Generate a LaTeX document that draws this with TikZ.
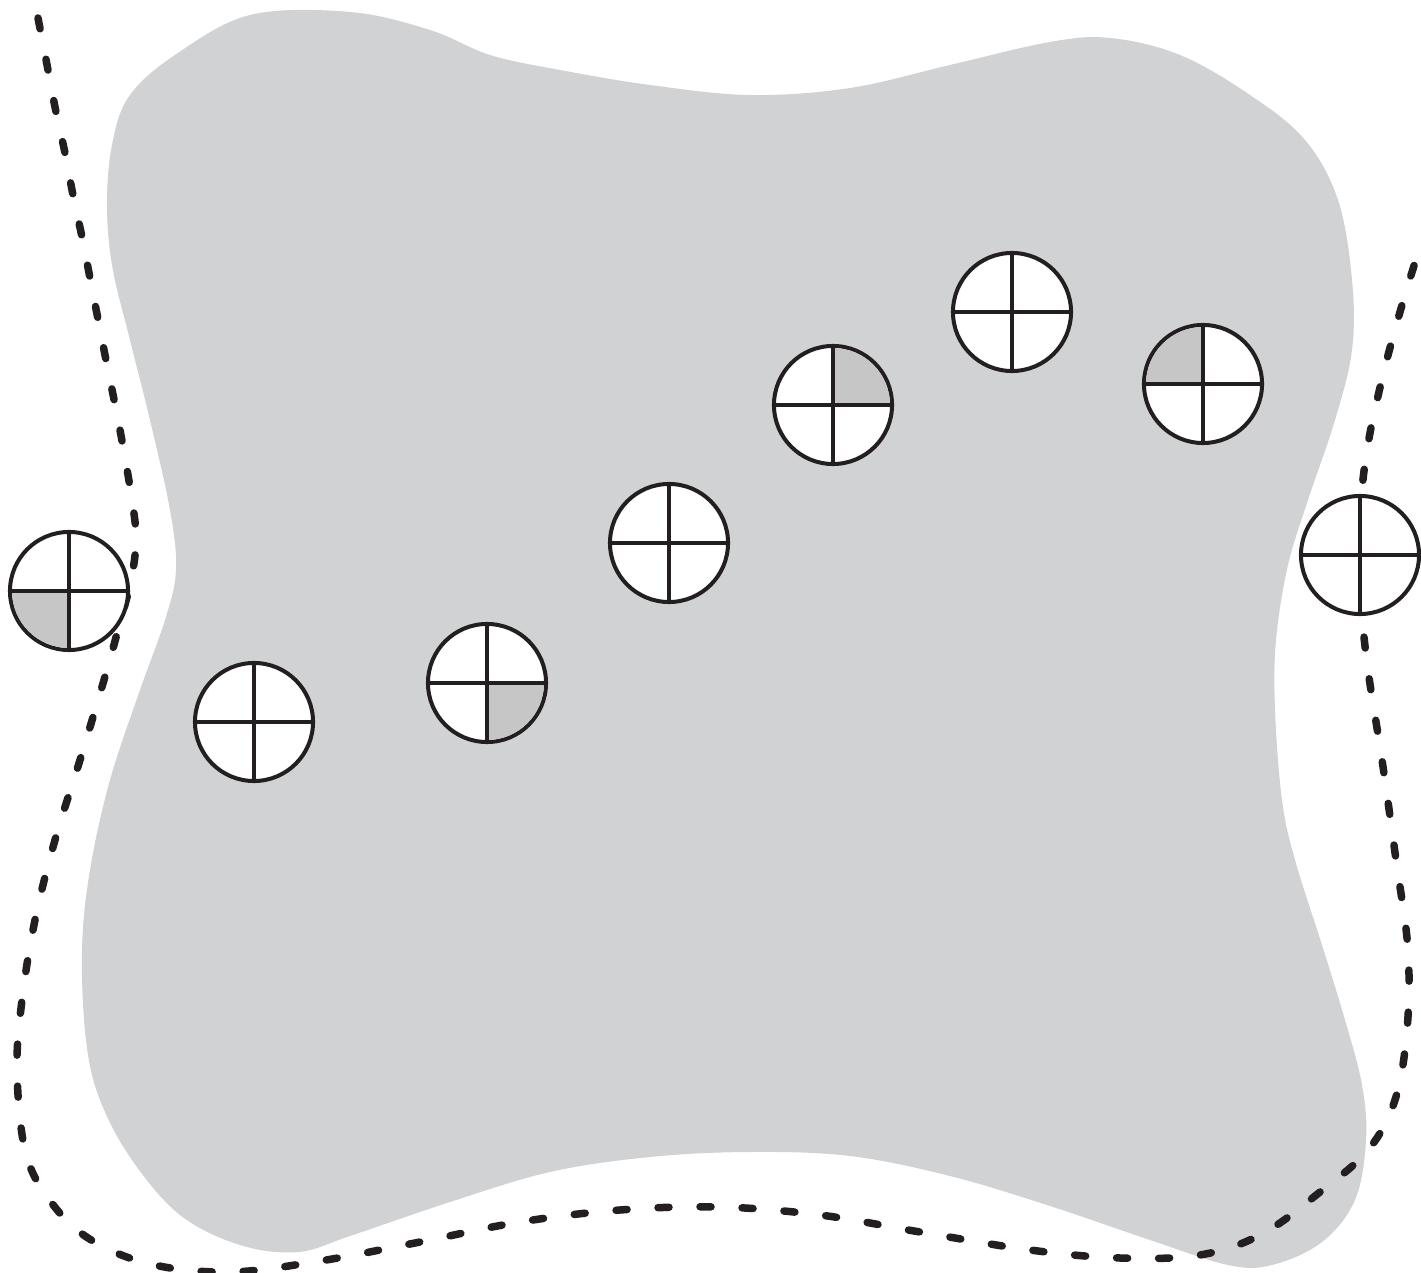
\documentclass[tikz,border=0pt]{standalone}
\begin{document}
\begin{tikzpicture}[x=0.01cm,y=0.01cm,
  blobfill/.style={fill=blobc},
  boundary/.style={draw=inkc, line width=0.075cm, line cap=round, dash pattern=on 0.11cm off 0.31cm},
  marker/.style={circle, draw=inkc, fill=white, line width=0.04cm, inner sep=0pt, outer sep=0pt, minimum size=1.18cm},
  crossline/.style={draw=inkc, line width=0.04cm},
  quad/.style={fill=quadc}
]
\definecolor{inkc}{HTML}{231F20}
\definecolor{blobc}{HTML}{D1D2D4}
\definecolor{quadc}{HTML}{C6C6C6}
\useasboundingbox (0,0) rectangle (1421,1272);
\fill[white] (0,0) rectangle (1421,1272);

\begin{scope}[shift={(0,1272)}, yscale=-1]
% gray region
\fill[blobfill] plot[smooth cycle, tension=0.6] coordinates {
 (250,15) (350,12) (430,30) (490,55) (560,70) (650,85) (750,95) (850,88)
 (950,65) (1050,42) (1110,38) (1180,55) (1250,95) (1305,140) (1338,200)
 (1352,280) (1352,350) (1335,420) (1308,500) (1288,565) (1276,640) (1275,710)
 (1282,800) (1295,860) (1322,945) (1345,1020) (1362,1085) (1366,1140)
 (1355,1200) (1322,1242) (1272,1265) (1228,1265) (1150,1240) (1050,1206)
 (950,1176) (850,1156) (750,1152) (650,1157) (550,1172) (450,1202) (350,1236)
 (298,1252) (240,1245) (180,1215) (132,1160) (100,1100) (86,1040) (82,950)
 (90,870) (110,780) (140,690) (165,620) (176,570) (170,510) (150,420)
 (130,340) (112,265) (107,200) (113,140) (130,95) (175,55)
};
% dashed boundary
\draw[boundary] plot[smooth, tension=0.6] coordinates {
 (38,18) (48,70) (56,112) (65,153) (73,195) (82,237) (90,278) (105,355)
 (120,430) (132,500) (136,540) (131,580) (118,630) (104,680) (80,760)
 (55,840) (35,920) (22,1000) (17,1070) (25,1150) (48,1198) (88,1238)
 (150,1264) (230,1272) (320,1261) (420,1242) (520,1222) (620,1210)
 (720,1207) (820,1215) (920,1232) (1030,1250) (1120,1258) (1200,1255)
 (1262,1234) (1320,1192) (1368,1150) (1395,1100) (1407,1030) (1408,950)
 (1396,860) (1382,760) (1368,670) (1361,600) (1360,520) (1367,450)
 (1383,375) (1402,305) (1419,250)
};
\end{scope}

% markers
\foreach \n/\px/\py in {c1/69/681, c2/254/550, c3/487/589, c4/669/729,
                        c5/833/867, c6/1012/960, c7/1203/888, c8/1360/717}
  \node[marker] (\n) at (\px,\py) {};

% shaded quadrants
\fill[quad] (c1.center) -- ++(180:0.57cm) arc[start angle=180, end angle=270, radius=0.57cm] -- cycle;
\fill[quad] (c3.center) -- ++(270:0.57cm) arc[start angle=270, end angle=360, radius=0.57cm] -- cycle;
\fill[quad] (c5.center) -- ++(0:0.57cm) arc[start angle=0, end angle=90, radius=0.57cm] -- cycle;
\fill[quad] (c7.center) -- ++(90:0.57cm) arc[start angle=90, end angle=180, radius=0.57cm] -- cycle;

% crosses
\foreach \n in {c1,c2,c3,c4,c5,c6,c7,c8} {
  \draw[crossline] (\n.north) -- (\n.south);
  \draw[crossline] (\n.west) -- (\n.east);
}
\end{tikzpicture}
\end{document}
